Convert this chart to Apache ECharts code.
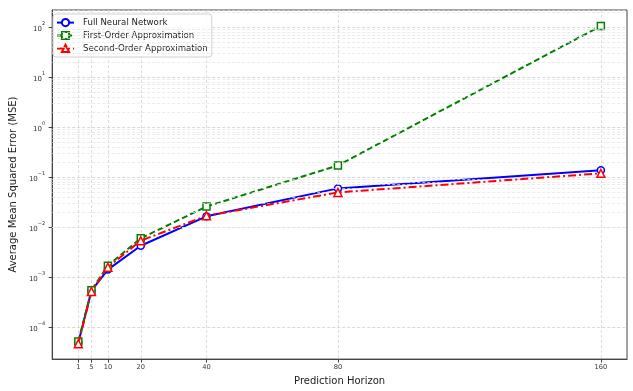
<!DOCTYPE html>
<html>
<head>
<meta charset="utf-8">
<script src="https://cdn.jsdelivr.net/npm/echarts@6/dist/echarts.min.js"></script>
<style>html,body{margin:0;padding:0;background:#fff}#c{width:633px;height:391px}</style>
</head>
<body>
<div id="c"></div>
<script>
const horizons = [1, 5, 10, 20, 40, 80, 160];
const xTickLabels = [1, 5, 10, 20, 40, 80, 160];
const fullNN = [4.8e-5, 5.3e-4, 1.40e-3, 4.2e-3, 1.63e-2, 5.9e-2, 1.36e-1];
const firstOrder = [5.1e-5, 5.4e-4, 1.68e-3, 5.9e-3, 2.56e-2, 1.70e-1, 105];
const secondOrder = [4.6e-5, 5.1e-4, 1.56e-3, 5.3e-3, 1.67e-2, 4.9e-2, 1.18e-1];
const seriesNames = ['Full Neural Network', 'First-Order Approximation', 'Second-Order Approximation'];
const yMin = 2.265e-5, yMax = 219;

const pair = arr => horizons.map((h, i) => [h, arr[i]]);
const minorVals = [];
for (let e = -5; e <= 2; e++) for (let m = 2; m <= 9; m++) {
  const v = m * Math.pow(10, e);
  if (v > yMin && v < yMax) minorVals.push({ yAxis: v });
}
const FONT = 'DejaVu Sans';
const chart = echarts.init(document.getElementById('c'), null, { renderer: 'canvas' });
chart.setOption({
  animation: false,
  backgroundColor: '#fff',
  textStyle: { fontFamily: FONT },
  grid: { left: 49, right: 6, top: 10, bottom: 27, show: true, borderColor: '#444', borderWidth: 1, backgroundColor: 'transparent' },
  legend: {
    data: seriesNames,
    orient: 'vertical', left: 53, top: 14,
    padding: [4, 4, 4, 3],
    itemWidth: 17, itemHeight: 9, itemGap: 3.7,
    borderColor: '#d0d0d0', borderWidth: 1, borderRadius: 3,
    backgroundColor: 'rgba(255,255,255,0.85)',
    textStyle: { fontFamily: FONT, fontSize: 8.6, color: '#222', padding: [0, 0, 0, 4] }
  },
  xAxis: {
    type: 'value', min: -6.95, max: 167.95,
    name: 'Prediction Horizon', nameLocation: 'middle', nameGap: 13,
    nameTextStyle: { fontFamily: FONT, fontSize: 10, color: '#222' },
    axisLine: { show: true, onZero: false, lineStyle: { color: '#444', width: 1 } },
    axisTick: { show: true, customValues: xTickLabels, length: 3.5, lineStyle: { color: '#444' } },
    axisLabel: { customValues: xTickLabels, fontFamily: FONT, fontSize: 6.7, color: '#333', margin: 5 },
    splitLine: { show: true, lineStyle: { color: '#d4d4d4', type: [3, 2], width: 0.8 } }
  },
  yAxis: {
    type: 'log', logBase: 10, min: yMin, max: yMax,
    name: 'Average Mean Squared Error (MSE)', nameLocation: 'middle', nameGap: 25,
    nameTextStyle: { fontFamily: FONT, fontSize: 10, color: '#222' },
    axisLine: { show: true, onZero: false, lineStyle: { color: '#444', width: 1 } },
    axisTick: { show: true, length: 3.5, lineStyle: { color: '#444' } },
    axisLabel: {
      fontFamily: FONT, color: '#333', margin: 7, showMinLabel: false, showMaxLabel: false,
      formatter: function (v) {
        const l = Math.log10(v); const e = Math.round(l);
        if (Math.abs(l - e) > 1e-6) return '';
        return '{b|10}{s|' + (e < 0 ? '\u2212' : '') + Math.abs(e) + '}';
      },
      rich: {
        b: { fontFamily: FONT, fontSize: 7, color: '#333', lineHeight: 12, verticalAlign: 'bottom' },
        s: { fontFamily: FONT, fontSize: 5, color: '#333', lineHeight: 12, verticalAlign: 'top', padding: [0, 0, 5, 0] }
      }
    },
    splitLine: { show: true, lineStyle: { color: '#cfcfcf', type: [3, 2], width: 0.8 } }
  },
  series: [
    {
      type: 'line', name: '_minor', data: [], z: 0, silent: true,
      markLine: {
        silent: true, symbol: ['none', 'none'], label: { show: false }, animation: false,
        lineStyle: { color: '#e2e2e2', type: [3, 2], width: 0.7 },
        data: minorVals
      }
    },
    {
      type: 'line', name: seriesNames[0], data: pair(fullNN), z: 3,
      symbol: 'circle', symbolSize: 7, showAllSymbol: true,
      lineStyle: { color: '#0000ff', width: 2 },
      itemStyle: { color: '#ffffff', borderColor: '#0000ff', borderWidth: 1.5 },
      color: '#0000ff'
    },
    {
      type: 'line', name: seriesNames[1], data: pair(firstOrder), z: 4,
      symbol: 'rect', symbolSize: 7,
      lineStyle: { color: '#008000', width: 2, type: [6, 3] },
      itemStyle: { color: '#ffffff', borderColor: '#008000', borderWidth: 1.5 },
      color: '#008000'
    },
    {
      type: 'line', name: seriesNames[2], data: pair(secondOrder), z: 5,
      symbol: 'triangle', symbolSize: 8,
      lineStyle: { color: '#ff0000', width: 2, type: [8, 3, 2, 3] },
      itemStyle: { color: '#ffffff', borderColor: '#ff0000', borderWidth: 1.5 },
      color: '#ff0000'
    }
  ]
});
</script>
</body>
</html>
